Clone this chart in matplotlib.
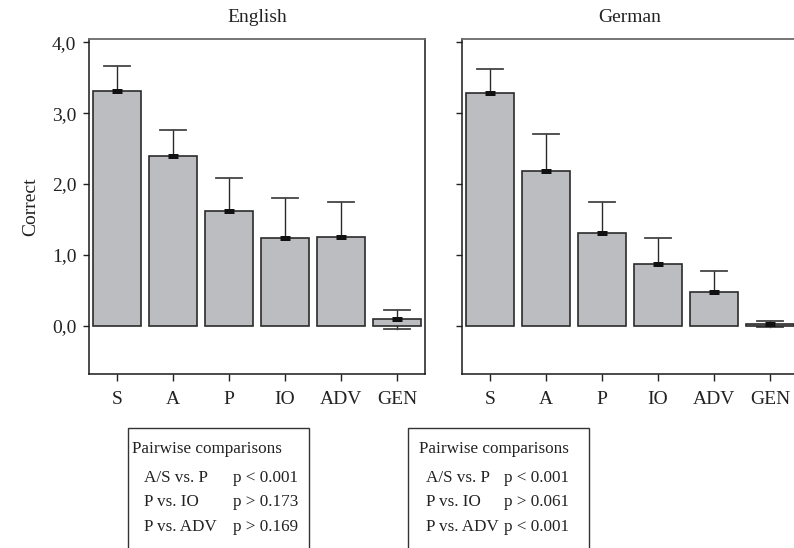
import matplotlib
matplotlib.use("Agg")
import matplotlib.pyplot as plt
from matplotlib.patches import Rectangle
from matplotlib.ticker import FuncFormatter

plt.rcParams['font.family'] = ['Liberation Serif', 'DejaVu Serif']

categories = ["S", "A", "P", "IO", "ADV", "GEN"]

english_means = [3.32, 2.39, 1.62, 1.24, 1.25, 0.09]
english_upper = [3.67, 2.76, 2.09, 1.80, 1.74, 0.22]
english_lower = [2.97, 2.02, 1.15, 0.68, 0.76, -0.05]

german_means = [3.29, 2.18, 1.31, 0.87, 0.48, 0.02]
german_upper = [3.62, 2.71, 1.75, 1.24, 0.77, 0.065]
german_lower = [2.96, 1.65, 0.87, 0.50, 0.19, -0.02]

yticks = [0.0, 1.0, 2.0, 3.0, 4.0]

english_tests = [("A/S vs. P", "p < 0.001"), ("P vs. IO", "p > 0.173"), ("P vs. ADV", "p > 0.169")]
german_tests = [("A/S vs. P", "p < 0.001"), ("P vs. IO", "p > 0.061"), ("P vs. ADV", "p < 0.001")]

W, H = 794, 548
fig = plt.figure(figsize=(W / 100, H / 100), dpi=100)

bar_color = "#bcbdc1"
edge_color = "#2b2b2b"


def px_rect(x0, y_top, x1, y_bot):
    return [x0 / W, 1 - y_bot / H, (x1 - x0) / W, (y_bot - y_top) / H]


def draw_panel(ax, title, means, upper, lower, show_labels):
    xs = list(range(len(categories)))
    ax.bar(xs, means, width=0.85, color=bar_color, edgecolor=edge_color,
           linewidth=1.2, zorder=2)
    for x, m, u, l in zip(xs, means, upper, lower):
        # upper whisker always visible, lower one hidden behind the bar
        ax.plot([x, x], [m, u], color=edge_color, lw=1.0, zorder=3)
        ax.plot([x, x], [l, m], color=edge_color, lw=1.0, zorder=1.5)
        for v, z in ((u, 3), (l, 1.5)):
            ax.plot([x - 0.23, x + 0.23], [v, v], color="#444444", lw=1.3, zorder=z)
        ax.plot([x], [m], marker="_", markersize=7.5, markeredgewidth=3.6,
                color="#111111", zorder=4)
    ax.set_xlim(-0.5, 5.5)
    ax.set_ylim(-0.68, 4.047)
    ax.set_xticks(xs)
    ax.set_xticklabels(categories, fontsize=14)
    ax.set_yticks(yticks)
    ax.yaxis.set_major_formatter(FuncFormatter(lambda v, p: f"{v:.1f}".replace(".", ",")))
    ax.tick_params(axis="x", length=5, width=1, pad=7, colors="#222222", labelcolor="#222222")
    ax.tick_params(axis="y", length=4, width=1, pad=5, colors="#222222", labelsize=14,
                   labelcolor="#222222", labelleft=show_labels)
    for side in ("left", "right", "bottom"):
        ax.spines[side].set_color("#1a1a1a")
        ax.spines[side].set_linewidth(1.1)
    ax.spines["top"].set_color("#6a6a6a")
    ax.spines["top"].set_linewidth(1.3)
    ax.set_title(title, fontsize=14, color="#222222", pad=12)


ax1 = fig.add_axes(px_rect(89, 39, 425, 374))
ax2 = fig.add_axes(px_rect(462, 39, 798, 374))
draw_panel(ax1, "English", english_means, english_upper, english_lower, True)
draw_panel(ax2, "German", german_means, german_upper, german_lower, False)
ax1.set_ylabel("Correct", fontsize=14, color="#222222", labelpad=9)


def comparison_box(x0, x1, x_head, x_row, x_p, tests):
    fig.patches.append(Rectangle((x0 / W, -0.05), (x1 - x0) / W, 0.05 + 1 - 428.5 / H,
                                 transform=fig.transFigure, fill=False,
                                 edgecolor="#333333", linewidth=1.0))
    fig.text(x_head / W, 1 - 449 / H, "Pairwise comparisons", fontsize=12.3,
             va="center", ha="left", color="#222222")
    for i, (name, p) in enumerate(tests):
        y = 1 - (478 + 24.3 * i) / H
        fig.text(x_row / W, y, name, fontsize=12.3, va="center", ha="left", color="#222222")
        fig.text(x_p / W, y, p, fontsize=12.3, va="center", ha="left", color="#222222")


comparison_box(127.7, 309.3, 131.7, 144.3, 233.3, english_tests)
comparison_box(408.3, 589.3, 419, 425.7, 504.3, german_tests)

fig.savefig("out.png", dpi=100)
